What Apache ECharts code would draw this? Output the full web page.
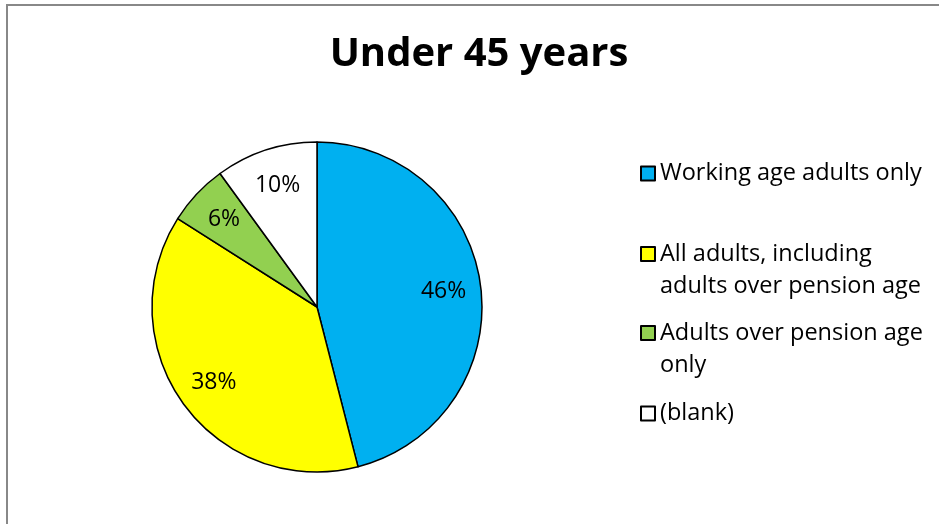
<!DOCTYPE html>
<html>
<head>
<meta charset="utf-8">
<script src="https://cdn.jsdelivr.net/npm/echarts@6/dist/echarts.min.js"></script>
<style>
  html, body { margin: 0; padding: 0; background: #fff; overflow: hidden; }
  #chart { width: 939px; height: 524px; }
</style>
</head>
<body>
<div id="chart"></div>
<script>
// Respondent groups and their share (%) of the "Under 45 years" answers
const categories = [
  'Working age adults only',
  'All adults, including adults over pension age',
  'Adults over pension age only',
  '(blank)'
];
const shares = [46, 38, 6, 10];
const sliceColors = ['#00B0F0', '#FFFF00', '#92D050', '#FFFFFF'];
// Legend text broken over lines the way the legend shows it
const legendLines = [
  ['Working age adults only'],
  ['All adults, including', 'adults over pension age'],
  ['Adults over pension age', 'only'],
  ['(blank)']
];
const titleText = 'Under 45 years';

const FONT = '"Open Sans", Lato, sans-serif';
const center = [317, 307];
const R = 165;
const LINE = 32;
const legendIconY = [168.5, 249, 328, 408.5];

const chart = echarts.init(document.getElementById('chart'), null, { renderer: 'canvas' });

const pieData = categories.map((name, i) => ({
  name,
  value: shares[i],
  itemStyle: { color: sliceColors[i] }
}));

// One legend block per entry; a blank leading line keeps the marker level
// with the first line of a wrapped entry
const legends = categories.map((name, i) => {
  const n = legendLines[i].length;
  const lines = n > 1 ? ['\u00a0'].concat(legendLines[i]) : legendLines[i];
  return {
    data: [name],
    orient: 'vertical',
    left: 635,
    top: legendIconY[i] - LINE / 2 - (n > 1 ? LINE : 0),
    icon: 'rect',
    itemWidth: 14,
    itemHeight: 14,
    itemGap: 0,
    selectedMode: false,
    formatter: () => lines.join('\n'),
    textStyle: {
      fontFamily: FONT,
      fontSize: 23.5,
      color: '#000',
      lineHeight: LINE
    }
  };
});

chart.setOption({
  animation: false,
  backgroundColor: '#fff',
  title: {
    text: titleText,
    left: 474,
    textAlign: 'center',
    top: 30,
    textStyle: { fontFamily: FONT, fontSize: 40, fontWeight: 'bold', color: '#000' }
  },
  legend: legends,
  graphic: [{
    type: 'rect',
    shape: { x: 7, y: 5, width: 1200, height: 1200 },
    style: { fill: 'none', stroke: '#888', lineWidth: 2 },
    silent: true
  }],
  series: [
    {
      type: 'pie',
      center,
      radius: [0, R],
      startAngle: 90,
      clockwise: true,
      silent: true,
      label: { show: false },
      labelLine: { show: false },
      itemStyle: { borderColor: '#000', borderWidth: 1.5 },
      data: pieData
    },
    {
      // invisible twin ring used only to place the percentage labels
      type: 'pie',
      center,
      radius: [0, R * 1.51],
      startAngle: 90,
      clockwise: true,
      silent: true,
      itemStyle: { color: 'rgba(0,0,0,0)', borderWidth: 0 },
      label: {
        show: true,
        position: 'inside',
        formatter: '{d}%',
        fontFamily: FONT,
        fontSize: 23,
        color: '#000'
      },
      labelLine: { show: false },
      data: categories.map((name, i) => ({ name, value: shares[i] }))
    }
  ]
});
</script>
</body>
</html>
